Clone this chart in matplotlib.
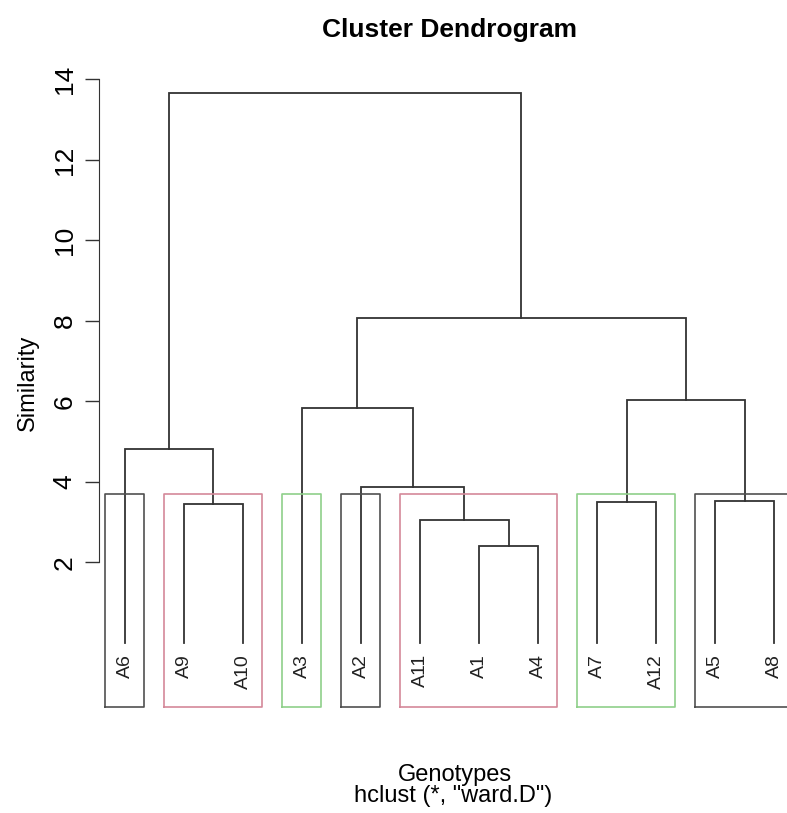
import numpy as np
import matplotlib
matplotlib.use('Agg')
import matplotlib.pyplot as plt

plt.rcParams['font.family'] = ['Liberation Sans', 'DejaVu Sans']

# leaf order as drawn, left to right
labels = ['A6', 'A9', 'A10', 'A3', 'A2', 'A11', 'A1', 'A4', 'A7', 'A12', 'A5', 'A8']

# merges in R hclust style: leaf label or index of an earlier merge (1-based)
merge_left = ['A1', 'A11', 'A9', 'A7', 'A5', 'A2', 'A6', 'A3', 4, 8, 7]
merge_right = ['A4', 1, 'A10', 'A12', 'A8', 2, 3, 6, 5, 9, 10]
merge_height = [2.40, 3.04, 3.44, 3.50, 3.52, 3.87, 4.81, 5.83, 6.03, 8.07, 13.67]

# rect.hclust(k = 7) groups
groups = [['A6'], ['A9', 'A10'], ['A3'], ['A2'], ['A11', 'A1', 'A4'], ['A7', 'A12'], ['A5', 'A8']]
k = 7
box_colors = ['#505050', '#d4899a', '#8fd08a']


def node_pos(node, xs, hs):
    if isinstance(node, str):
        return labels.index(node) + 1, 0.0
    return xs[node - 1], hs[node - 1]


def main():
    fig = plt.figure(figsize=(7.87, 8.13), dpi=100)
    ax = fig.add_axes([99 / 787, 1 - 707 / 813, 701 / 787, 638 / 813])

    line_col = '#333333'
    xs, hs = [], []
    for left, right, h in zip(merge_left, merge_right, merge_height):
        x1, y1 = node_pos(left, xs, hs)
        x2, y2 = node_pos(right, xs, hs)
        ax.plot([x1, x1, x2, x2], [y1, h, h, y2], color=line_col, lw=1.3,
                solid_joinstyle='miter')
        xs.append((x1 + x2) / 2)
        hs.append(h)

    for i, lab in enumerate(labels):
        ax.text(i + 1, -0.28, lab, rotation=90, ha='center', va='top', fontsize=14,
                color='#222222')

    ymin, ymax = -1.6, 14.26
    srt = sorted(merge_height, reverse=True)
    box_top = (srt[k - 2] + srt[k - 1]) / 2
    for j, g in enumerate(groups):
        xa = labels.index(g[0]) + 1 - 0.34
        xb = labels.index(g[-1]) + 1 + 0.33
        ax.plot([xa, xa, xb, xb, xa], [ymin, box_top, box_top, ymin, ymin],
                color=box_colors[j % 3], lw=1.2, clip_on=False)

    ax.set_xlim(0.56, 12.44)
    ax.set_ylim(ymin, ymax)
    for s in ['top', 'right', 'bottom']:
        ax.spines[s].set_visible(False)
    ax.spines['left'].set_bounds(2, 14)
    ax.spines['left'].set_color('#333333')
    ax.set_xticks([])
    ax.set_yticks(np.arange(2, 15, 2))
    ax.tick_params(axis='y', length=10, width=1, color='#333333', labelsize=19,
                   pad=6, labelrotation=90)
    for t in ax.get_yticklabels():
        t.set_va('center')

    fig.text(28 / 787, 1 - 383 / 813, 'Similarity', rotation=90, ha='center',
             va='center', fontsize=17)
    fig.text(450 / 787, 1 - 30 / 813, 'Cluster Dendrogram', ha='center',
             va='center', fontsize=19, fontweight='bold')
    fig.text(455 / 787, 1 - 775 / 813, 'Genotypes', ha='center', va='center',
             fontsize=17)
    fig.text(453 / 787, 1 - 796 / 813, 'hclust (*, "ward.D")', ha='center',
             va='center', fontsize=17)

    fig.savefig('out.png', dpi=100)


if __name__ == '__main__':
    main()
